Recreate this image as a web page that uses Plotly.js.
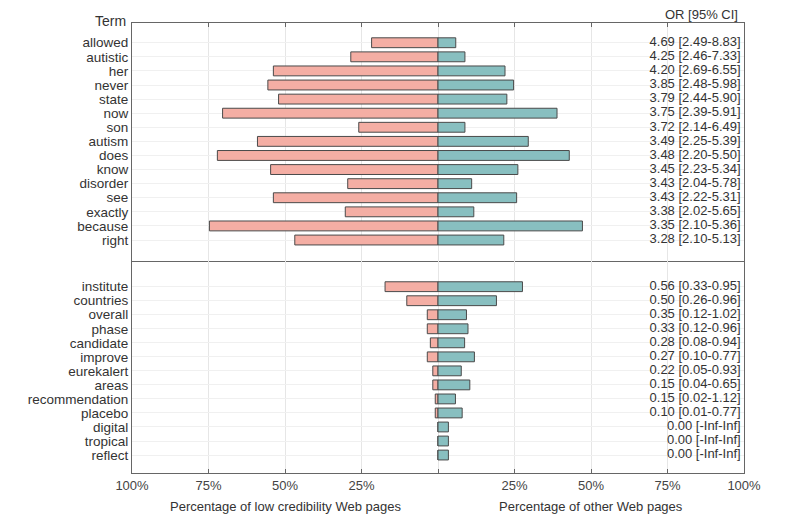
<!DOCTYPE html>
<html>
<head>
<meta charset="utf-8">
<script src="https://cdn.plot.ly/plotly-3.0.1.min.js"></script>
<style>html,body{margin:0;padding:0;background:#fff;}#chart{width:800px;height:522px;}</style>
</head>
<body>
<div id="chart"></div>
<script>
// Top panel: terms more frequent in low credibility pages
const termsTop = ["allowed","autistic","her","never","state","now","son","autism","does","know","disorder","see","exactly","because","right"];
const lowTop   = [21.7, 28.5, 53.8, 55.6, 52.1, 70.4, 25.9, 59.0, 72.1, 54.7, 29.5, 53.8, 30.3, 74.7, 46.8];
const otherTop = [5.8, 8.8, 21.9, 24.7, 22.5, 38.9, 8.8, 29.5, 42.9, 26.1, 11.0, 25.7, 11.7, 47.2, 21.5];
const orTop    = ["4.69 [2.49-8.83]","4.25 [2.46-7.33]","4.20 [2.69-6.55]","3.85 [2.48-5.98]","3.79 [2.44-5.90]","3.75 [2.39-5.91]","3.72 [2.14-6.49]","3.49 [2.25-5.39]","3.48 [2.20-5.50]","3.45 [2.23-5.34]","3.43 [2.04-5.78]","3.43 [2.22-5.31]","3.38 [2.02-5.65]","3.35 [2.10-5.36]","3.28 [2.10-5.13]"];

// Bottom panel: terms less frequent in low credibility pages
const termsBot = ["institute","countries","overall","phase","candidate","improve","eurekalert","areas","recommendation","placebo","digital","tropical","reflect"];
const lowBot   = [17.3, 10.2, 3.5, 3.5, 2.5, 3.5, 1.7, 1.7, 0.9, 0.9, 0, 0, 0];
const otherBot = [27.6, 19.1, 9.3, 9.8, 8.7, 11.9, 7.6, 10.4, 5.7, 7.9, 3.4, 3.4, 3.4];
const orBot    = ["0.56 [0.33-0.95]","0.50 [0.26-0.96]","0.35 [0.12-1.02]","0.33 [0.12-0.96]","0.28 [0.08-0.94]","0.27 [0.10-0.77]","0.22 [0.05-0.93]","0.15 [0.04-0.65]","0.15 [0.02-1.12]","0.10 [0.01-0.77]","0.00 [-Inf-Inf]","0.00 [-Inf-Inf]","0.00 [-Inf-Inf]"];

const tickVals = [-100,-75,-50,-25,0,25,50,75,100];
const tickText = ["100%","75%","50%","25%","","25%","50%","75%","100%"];

const salmon = "#F4AEA4";
const teal = "#88BFC0";
const edge = "#4a4a4a";
const neg = a => a.map(v => -v);

function bars(x, y, color, xa, ya) {
  return {type:"bar", orientation:"h", x:x, y:y, base:0, width:0.7,
    marker:{color:color, line:{color:edge, width:1}},
    xaxis:xa, yaxis:ya, hoverinfo:"skip", showlegend:false};
}
function labels(y, txt, xa, ya) {
  return {type:"scatter", mode:"text", x:y.map(()=>98.9), y:y, text:txt,
    textposition:"middle left", cliponaxis:false,
    textfont:{family:"Liberation Sans, Arial, sans-serif", size:13, color:"#333"},
    xaxis:xa, yaxis:ya, hoverinfo:"skip", showlegend:false};
}

const data = [
  bars(neg(lowTop), termsTop, salmon, "x2", "y"),
  bars(otherTop, termsTop, teal, "x2", "y"),
  labels(termsTop, orTop, "x2", "y"),
  bars(neg(lowBot), termsBot, salmon, "x", "y2"),
  bars(otherBot, termsBot, teal, "x", "y2"),
  labels(termsBot, orBot, "x", "y2")
];

const split = 211/450;
const font = {family:"Liberation Sans, Arial, sans-serif", size:13, color:"#333"};
const common = {range:[-100,100], tickvals:tickVals, ticktext:tickText, showgrid:true,
  gridcolor:"#e6e6e6", gridwidth:1, zeroline:false, showline:true, linecolor:"#666",
  linewidth:1, ticks:"inside", ticklen:4, tickcolor:"#666", fixedrange:true};

const yCommon = {type:"category", categoryorder:"array", tickmode:"array",
  showgrid:true, gridcolor:"#f0f0f0", zeroline:false, showline:true, mirror:true,
  linecolor:"#666", ticks:"", fixedrange:true,
  tickfont:{family:font.family, size:13.5, color:"#333"}};

const layout = {
  width:800, height:522,
  margin:{l:132, r:56, t:23, b:49},
  paper_bgcolor:"#fff", plot_bgcolor:"#fff",
  font:font,
  barmode:"overlay",
  xaxis: Object.assign({}, common, {anchor:"y2", domain:[0,1], side:"bottom", mirror:true,
    tickfont:{family:font.family, size:13, color:"#444"}}),
  xaxis2: Object.assign({}, common, {anchor:"y", domain:[0,1], side:"top", mirror:false,
    showticklabels:false, matches:"x"}),
  yaxis: Object.assign({}, yCommon, {domain:[split,1], categoryarray:termsTop,
    tickvals:termsTop, ticktext:termsTop, range:[15.56,-1.4], anchor:"x2"}),
  yaxis2: Object.assign({}, yCommon, {domain:[0,split], categoryarray:termsBot,
    tickvals:termsBot, ticktext:termsBot, range:[13.28,-1.76], anchor:"x"}),
  annotations:[
    {text:"Term", xref:"paper", yref:"paper", x:-0.007, y:1, xanchor:"right", yanchor:"bottom",
     showarrow:false, font:{family:font.family, size:14, color:"#333"}, yshift:-8},
    {text:"OR [95% CI]", xref:"paper", yref:"paper", x:0.994, y:1, xanchor:"right", yanchor:"bottom",
     showarrow:false, font:{family:font.family, size:13, color:"#333"}, yshift:-1},
    {text:"Percentage of low credibility Web pages", xref:"x", yref:"paper", x:-50, y:0,
     yshift:-33, xanchor:"center", yanchor:"middle", showarrow:false,
     font:{family:font.family, size:13, color:"#333"}},
    {text:"Percentage of other Web pages", xref:"x", yref:"paper", x:50, y:0,
     yshift:-33, xanchor:"center", yanchor:"middle", showarrow:false,
     font:{family:font.family, size:13, color:"#333"}}
  ]
};

Plotly.newPlot("chart", data, layout, {displayModeBar:false, staticPlot:true});
</script>
</body>
</html>
